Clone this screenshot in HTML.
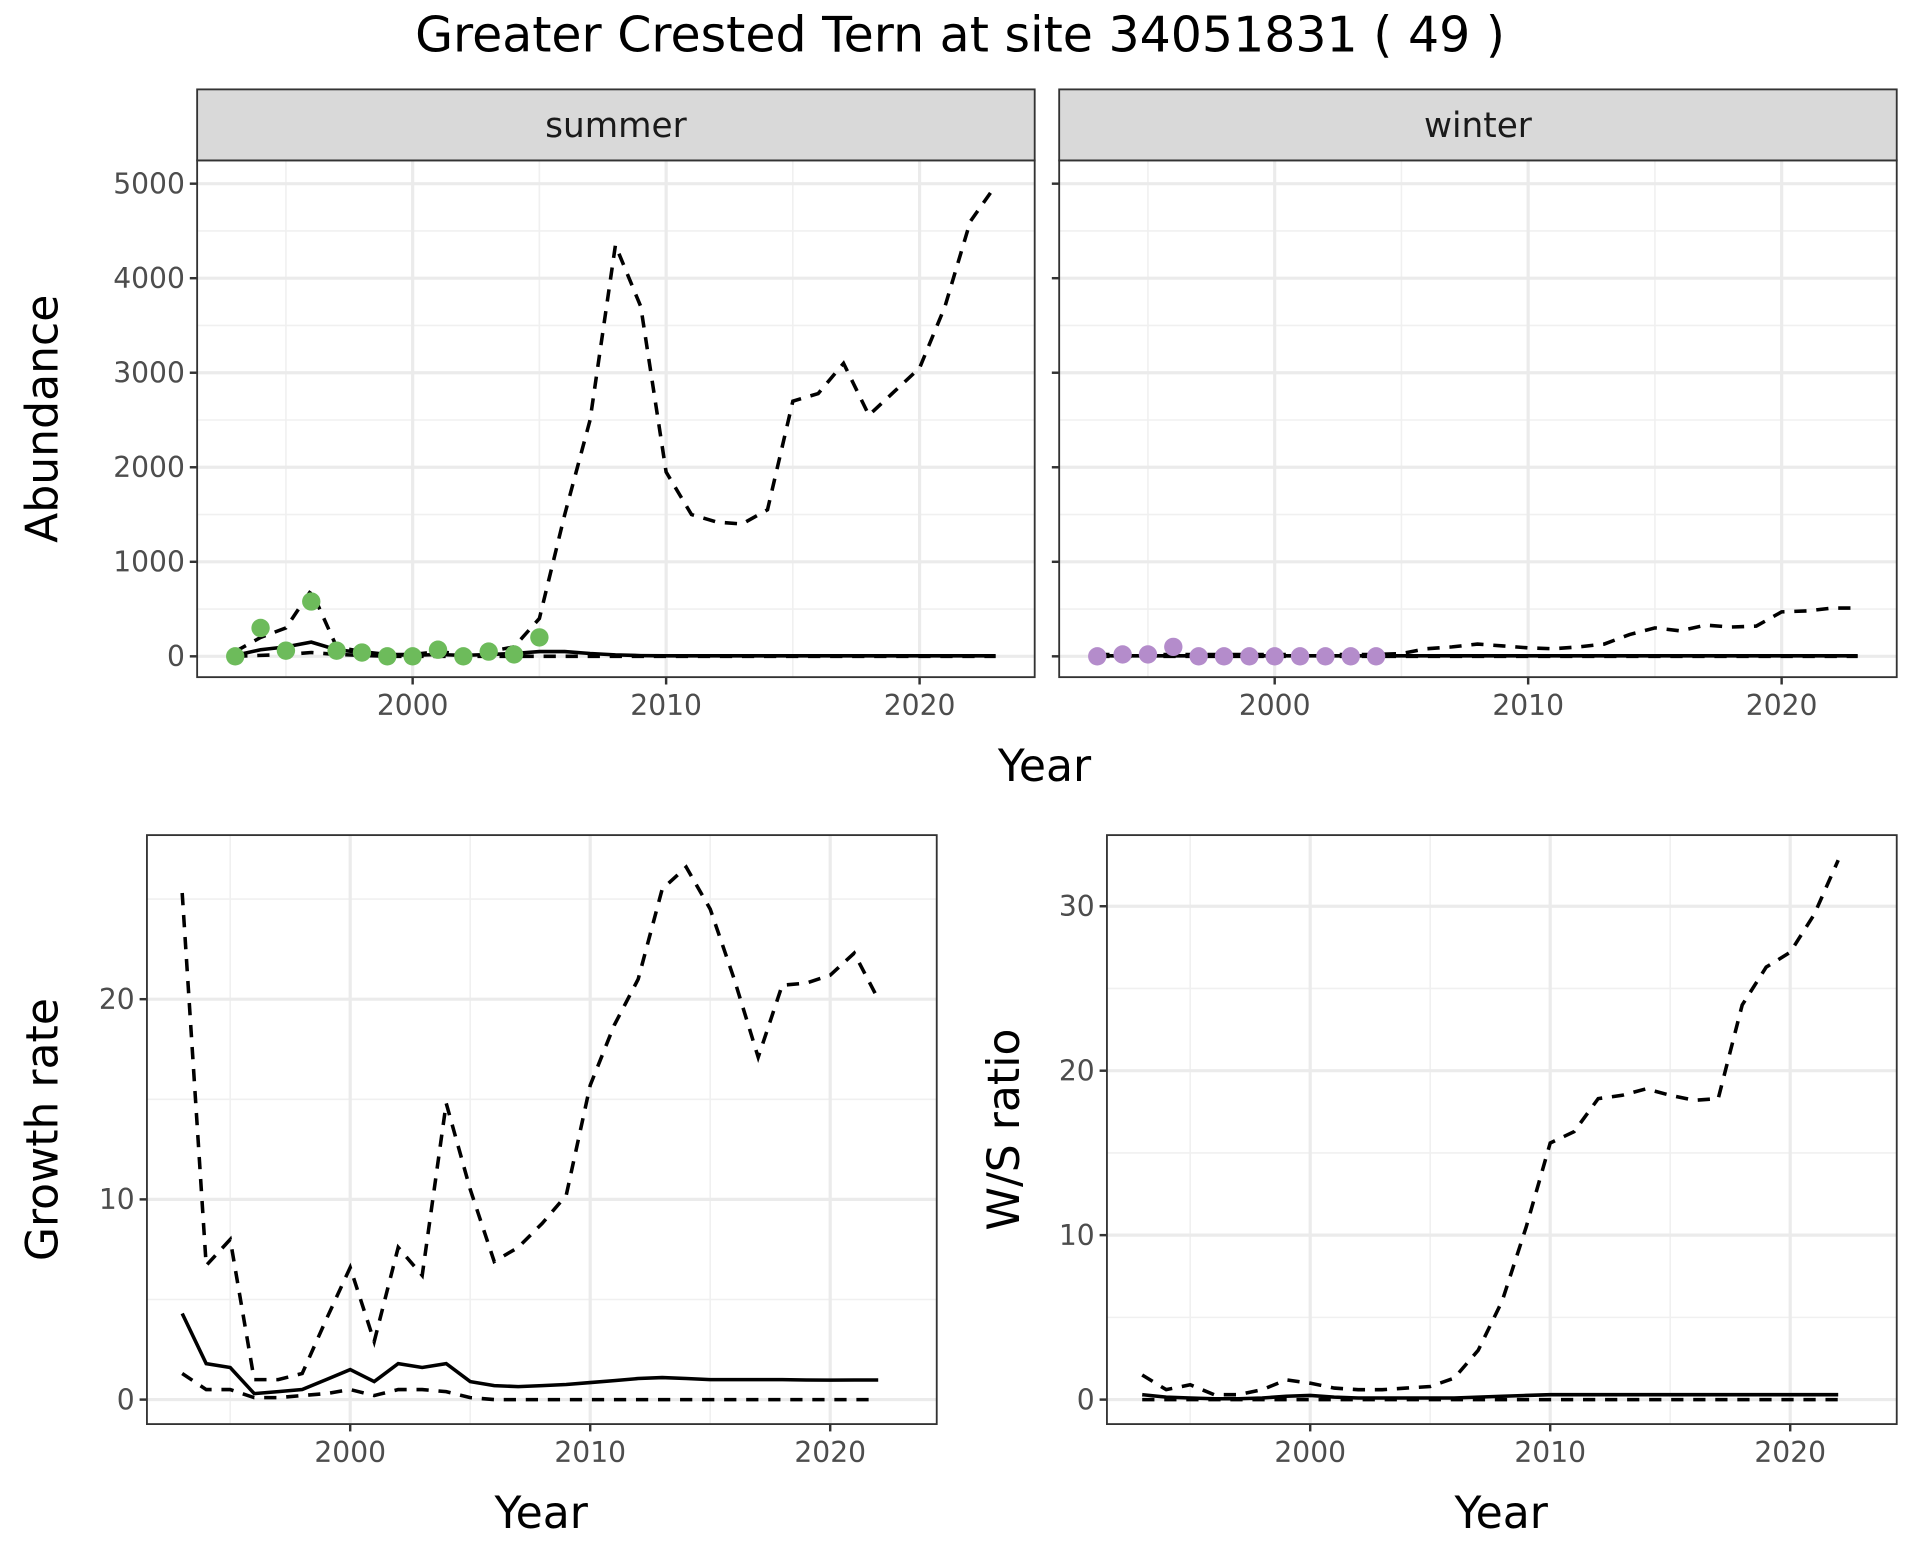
<!DOCTYPE html>
<html><head><meta charset="utf-8"><style>
html,body{margin:0;padding:0;background:#fff}
svg{display:block;font-family:"DejaVu Sans","Liberation Sans",sans-serif}
</style></head><body>
<svg id="chart" width="1920" height="1560" viewBox="0 0 1568 1274" preserveAspectRatio="none" xmlns="http://www.w3.org/2000/svg">
<rect width="1568" height="1274" fill="#fff"/>
<text x="784" y="42" font-size="40" text-anchor="middle">Greater Crested Tern at site 34051831 ( 49 )</text>
<g id="g"></g>
</svg>
<script>
const years = [1993,1994,1995,1996,1997,1998,1999,2000,2001,2002,2003,2004,2005,2006,2007,2008,2009,2010,2011,2012,2013,2014,2015,2016,2017,2018,2019,2020,2021,2022,2023];
const summerUpper = [50,200,300,700,100,50,20,20,50,20,50,100,400,1500,2500,4350,3700,1950,1500,1420,1400,1550,2700,2780,3100,2550,2800,3050,3700,4600,4980];
const summerMean = [10,70,100,150,70,40,20,10,20,10,20,30,50,50,30,15,8,5,5,5,5,5,5,5,5,5,5,5,5,5,5];
const summerLower = [0,10,20,40,20,10,0,0,0,0,0,0,0,0,0,0,0,0,0,0,0,0,0,0,0,0,0,0,0,0,0];
const summerObsYears = [1993,1994,1995,1996,1997,1998,1999,2000,2001,2002,2003,2004,2005];
const summerObs = [0,300,60,580,60,40,0,0,70,0,50,20,200];
const winterUpper = [20,20,20,20,20,20,20,20,20,20,20,20,30,80,100,130,110,90,80,100,130,230,300,270,330,310,320,470,480,510,510];
const winterMean = [5,5,5,5,5,5,5,5,5,5,5,5,5,5,5,5,5,5,5,5,5,5,5,5,5,5,5,5,5,5,5];
const winterLower = [0,0,0,0,0,0,0,0,0,0,0,0,0,0,0,0,0,0,0,0,0,0,0,0,0,0,0,0,0,0,0];
const winterObsYears = [1993,1994,1995,1996,1997,1998,1999,2000,2001,2002,2003,2004];
const winterObs = [0,20,20,100,0,0,0,0,0,0,0,0];
const gYears = [1993,1994,1995,1996,1997,1998,1999,2000,2001,2002,2003,2004,2005,2006,2007,2008,2009,2010,2011,2012,2013,2014,2015,2016,2017,2018,2019,2020,2021,2022];
const growthUpper = [25.3,6.7,8,1,1,1.3,4,6.6,2.9,7.6,6.2,14.8,10.5,6.9,7.6,8.8,10.2,15.7,18.7,21,25.5,26.6,24.5,21,17.1,20.7,20.8,21.2,22.3,20];
const growthMean = [4.3,1.8,1.6,0.3,0.4,0.5,1,1.5,0.9,1.8,1.6,1.8,0.9,0.7,0.65,0.7,0.75,0.85,0.95,1.05,1.1,1.05,1.0,1.0,1.0,1.0,0.98,0.97,0.98,0.98];
const growthLower = [1.3,0.5,0.5,0.1,0.1,0.2,0.3,0.5,0.2,0.5,0.5,0.4,0.1,0,0,0,0,0,0,0,0,0,0,0,0,0,0,0,0,0];
const wsUpper = [1.5,0.6,0.9,0.3,0.3,0.6,1.2,1.0,0.7,0.6,0.6,0.7,0.8,1.3,3,6,10.5,15.6,16.3,18.3,18.5,18.9,18.5,18.2,18.3,24,26.3,27.2,29.5,32.8];
const wsMean = [0.3,0.15,0.1,0.05,0.05,0.1,0.2,0.25,0.15,0.1,0.1,0.1,0.1,0.1,0.15,0.2,0.25,0.3,0.3,0.3,0.3,0.3,0.3,0.3,0.3,0.3,0.3,0.3,0.3,0.3];
const wsLower = [0,0,0,0,0,0,0,0,0,0,0,0,0,0,0,0,0,0,0,0,0,0,0,0,0,0,0,0,0,0,0];
const xTicks = [2000,2010,2020];
const abTicks = [0,1000,2000,3000,4000,5000];
const grTicks = [0,10,20];
const wsTicks = [0,10,20,30];

const NS="http://www.w3.org/2000/svg";
const root=document.getElementById('g');
function mk(tag,attrs,parent){const e=document.createElementNS(NS,tag);for(const k in attrs)e.setAttribute(k,attrs[k]);(parent||root).appendChild(e);return e;}
function lin(d0,d1,r0,r1){return v=>r0+(v-d0)*(r1-r0)/(d1-d0);}

function panel(o){
  const g=mk('g',{});
  
  
  const x=lin(2000,2010,o.x2000,o.x2010), y=lin(0,o.yStep,o.y0,o.yStepPx);
  mk('rect',{x:o.l,y:o.t,width:o.r-o.l,height:o.b-o.t,fill:'#fff'},g);
  for(let i=0;i<xTicks.length+1;i++){const v=xTicks[0]-5+10*i;const px=x(v);if(px>o.l&&px<o.r)mk('line',{x1:px,x2:px,y1:o.t,y2:o.b,stroke:'#f0f0f0','stroke-width':1.3},g);}
  for(let i=0;i<o.yTicks.length;i++){const v=o.yTicks[i]+o.yStep/2;const py=y(v);if(py>o.t&&py<o.b)mk('line',{x1:o.l,x2:o.r,y1:py,y2:py,stroke:'#f0f0f0','stroke-width':1.3},g);}
  xTicks.forEach(v=>{const px=x(v);mk('line',{x1:px,x2:px,y1:o.t,y2:o.b,stroke:'#ebebeb','stroke-width':2.6},g);});
  o.yTicks.forEach(v=>{const py=y(v);mk('line',{x1:o.l,x2:o.r,y1:py,y2:py,stroke:'#ebebeb','stroke-width':2.6},g);});
  const series=[[o.lower,'10,8','lower-bound'],[o.upper,'10,8','upper-bound'],[o.mean,null,'mean-line']];
  series.forEach(([arr,dash,nm])=>{
    const pts=arr.map((v,i)=>x(o.yrs[i]).toFixed(1)+','+y(v).toFixed(1)).join(' ');
    const p=mk('polyline',{points:pts,fill:'none',stroke:'#000','stroke-width':2.9},g);
    if(dash)p.setAttribute('stroke-dasharray',dash);
    
    
  });
  if(o.obs){o.obs.forEach((v,i)=>{const c=mk('circle',{cx:x(o.obsYears[i]),cy:y(v),r:7.5,fill:o.color},g);
    
    });}
  mk('rect',{x:o.l,y:o.t,width:o.r-o.l,height:o.b-o.t,fill:'none',stroke:'#333','stroke-width':1.5},g);
  xTicks.forEach(v=>{const px=x(v);mk('line',{x1:px,x2:px,y1:o.b,y2:o.b+6,stroke:'#333','stroke-width':2},g);
    const t=mk('text',{x:px,y:o.b+31,'font-size':23,fill:'#4d4d4d','text-anchor':'middle'},g);t.textContent=v;
    });
  if(o.yLabels){o.yTicks.forEach(v=>{const py=y(v);mk('line',{x1:o.l-6,x2:o.l,y1:py,y2:py,stroke:'#333','stroke-width':2},g);
    const t=mk('text',{x:o.l-10,y:py+8,'font-size':23,fill:'#4d4d4d','text-anchor':'end'},g);t.textContent=v;
    });}
  else{o.yTicks.forEach(v=>{const py=y(v);mk('line',{x1:o.l-6,x2:o.l,y1:py,y2:py,stroke:'#333','stroke-width':2},g);});}
  if(o.strip){const s=mk('rect',{x:o.l,y:o.t-58,width:o.r-o.l,height:58,fill:'#d9d9d9',stroke:'#333','stroke-width':1.5},g);
    
    const t=mk('text',{x:(o.l+o.r)/2,y:o.t-19,'font-size':28,fill:'#1a1a1a','text-anchor':'middle'},g);t.textContent=o.strip;
    }
  if(o.ylab){const t=mk('text',{x:0,y:0,'font-size':36,'text-anchor':'middle',transform:`translate(${o.ylabX},${(o.t+o.b)/2}) rotate(-90)`},g);t.textContent=o.ylab;
    }
  if(o.xlabX){const t=mk('text',{x:o.xlabX,y:o.xlabY,'font-size':36,'text-anchor':'middle'},g);t.textContent='Year';
    }
}
panel({name:'summer-panel',l:161,r:845,t:131,b:553,x2000:337,x2010:544,y0:536,yStep:1000,yStepPx:458.8,yTicks:abTicks,yrs:years,upper:summerUpper,mean:summerMean,lower:summerLower,obs:summerObs,obsYears:summerObsYears,color:'#6dbb5b',strip:'summer',yLabels:true,ylab:'Abundance',ylabX:47,xlabX:853,xlabY:638});
panel({name:'winter-panel',l:865,r:1549,t:131,b:553,x2000:1041,x2010:1248,y0:536,yStep:1000,yStepPx:458.8,yTicks:abTicks,yrs:years,upper:winterUpper,mean:winterMean,lower:winterLower,obs:winterObs,obsYears:winterObsYears,color:'#b48ccb',strip:'winter',yLabels:false});
panel({name:'growth-panel',l:120,r:765,t:682,b:1163,x2000:286,x2010:482,y0:1143,yStep:10,yStepPx:979.5,yTicks:grTicks,yrs:gYears,upper:growthUpper,mean:growthMean,lower:growthLower,yLabels:true,ylab:'Growth rate',ylabX:47,xlabX:442,xlabY:1248});
panel({name:'ws-ratio-panel',l:904,r:1549,t:682,b:1163,x2000:1070,x2010:1266,y0:1143,yStep:10,yStepPx:1008.7,yTicks:wsTicks,yrs:gYears,upper:wsUpper,mean:wsMean,lower:wsLower,yLabels:true,ylab:'W/S ratio',ylabX:832,xlabX:1226,xlabY:1248});
</script>
</body></html>
